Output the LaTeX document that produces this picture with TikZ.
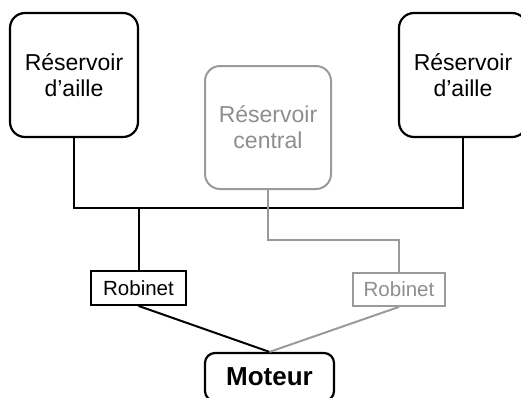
\documentclass[tikz,border=0pt]{standalone}
\usepackage{fontspec}
\setmainfont{Liberation Sans}
\definecolor{lightgr}{HTML}{9A9A9A}
\definecolor{textgr}{HTML}{8E8E8E}
\begin{document}
\begin{tikzpicture}[x=1pt,y=-1pt,
  tank/.style={draw=black,line width=2.2pt,rounded corners=15pt,align=center,
    font=\fontsize{23}{26}\selectfont,inner sep=0pt},
  gtank/.style={tank,draw=lightgr,text=textgr,line width=2pt},
  valve/.style={draw=black,line width=1.8pt,inner sep=0pt,font=\fontsize{20.5}{22}\selectfont},
  gvalve/.style={valve,draw=lightgr,text=textgr},
  pipe/.style={line width=2pt,black},
  gpipe/.style={line width=2pt,lightgr}]
\useasboundingbox (0,0) rectangle (521,397);
\clip (0,0) rectangle (521,397);
\node[tank,minimum width=128pt,minimum height=124pt] (L) at (74,75) {Réservoir\\d’aille};
\node[tank,minimum width=128pt,minimum height=124pt] (R) at (463,75) {Réservoir\\d’aille};
\node[gtank,minimum width=126pt,minimum height=123pt] (C) at (268,127.5) {Réservoir\\central};
\node[valve,minimum width=95pt,minimum height=34pt] (VL) at (138.5,288) {Robinet};
\node[gvalve,minimum width=92pt,minimum height=33pt] (VG) at (399,289.5) {Robinet};
\node[tank,font=\fontsize{26}{28}\selectfont\bfseries,rounded corners=10pt,minimum width=129pt,minimum height=48pt] (M) at (269.5,377) {Moteur};
\coordinate (jl) at (74,208);
\coordinate (jr) at (463,208);
\coordinate (jg) at (268,240);
\draw[pipe] (L.south) -- (jl) -- (jr) -- (R.south);
\draw[pipe] (VL.north |- jl) -- (VL.north);
\draw[gpipe] (C.south) -- (jg) -| (VG.north);
\draw[pipe] (VL.south) -- (M.north);
\draw[gpipe] (VG.south) -- (M.north);
\end{tikzpicture}
\end{document}
